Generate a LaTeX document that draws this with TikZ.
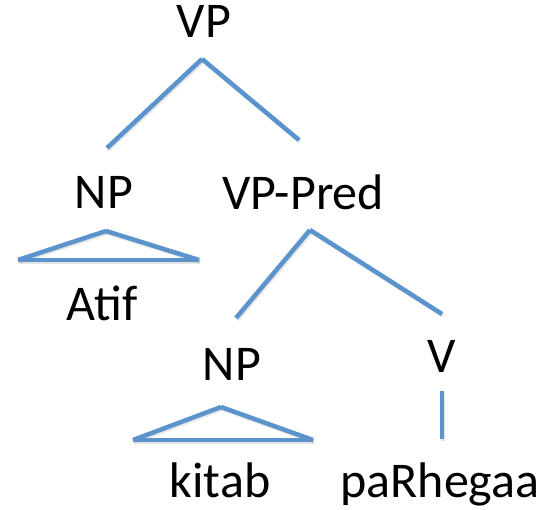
\documentclass[tikz,border=0pt]{standalone}
\usepackage{fontspec}
\setmainfont{Carlito}
\definecolor{branch}{RGB}{91,148,205}
\begin{document}
\begin{tikzpicture}[x=1pt,y=-1pt,
  lbl/.style={anchor=base,inner sep=0pt,font=\fontsize{50}{60}\selectfont},
  edge/.style={draw=branch,line width=4.5pt,line cap=butt},
  shade/.style={draw=black!35,line width=4.5pt,opacity=0.3,line cap=butt,transform canvas={xshift=1.2pt,yshift=-1.5pt}}]
\useasboundingbox (0,0) rectangle (543,510);
% labels
\node[lbl] (vp)    at (204,38)  {VP};
\node[lbl] (np1)   at (104,209) {NP};
\node[lbl] (atif)  at (102,320) {Atif};
\node[lbl] (vpp)   at (303,210) {VP-Pred};
\node[lbl] (np2)   at (232,380) {NP};
\node[lbl] (v)     at (442,372) {V};
\node[lbl] (kitab) at (220,497) {kitab};
\node[lbl] (verb)  at (440,497) {paRhegaa};
% branch end points
\coordinate (vpTop) at (202,59);
\coordinate (vpL)   at (107,148);
\coordinate (vpR)   at (299,140);
\coordinate (t1Top) at (106,231);
\coordinate (t1L)   at (18,260);
\coordinate (t1R)   at (199,260);
\coordinate (ppTop) at (310,230);
\coordinate (ppL)   at (236,318);
\coordinate (ppR)   at (442,314);
\coordinate (t2Top) at (221,407);
\coordinate (t2L)   at (133,440);
\coordinate (t2R)   at (313,440);
\coordinate (vTop)  at (442,391);
\coordinate (vBot)  at (442,439);
% every branch is its own straight stroke
\foreach \s in {shade,edge}{
  \draw[\s] (vpTop) -- (vpL);
  \draw[\s] (vpTop) -- (vpR);
  \draw[\s] (t1Top) -- (t1L);
  \draw[\s] (t1Top) -- (t1R);
  \draw[\s] (t1L) -- (t1R);
  \draw[\s] (ppTop) -- (ppL);
  \draw[\s] (ppTop) -- (ppR);
  \draw[\s] (t2Top) -- (t2L);
  \draw[\s] (t2Top) -- (t2R);
  \draw[\s] (t2L) -- (t2R);
  \draw[\s] (vTop) -- (vBot);
}
\end{tikzpicture}
\end{document}
